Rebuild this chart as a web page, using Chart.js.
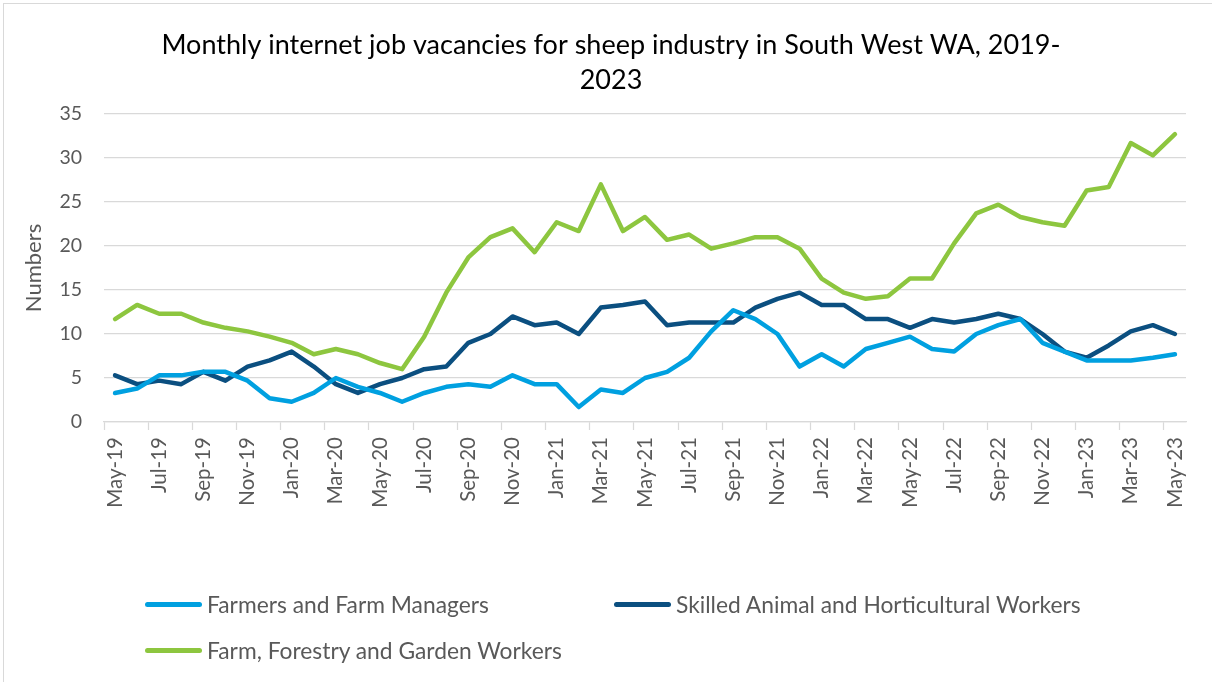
<!DOCTYPE html>
<html>
<head>
<meta charset="utf-8">
<script src="https://cdn.jsdelivr.net/npm/chart.js@4.4.0/dist/chart.umd.min.js"></script>
<style>
  html, body { margin: 0; padding: 0; background: #fff; overflow: hidden; }
  #wrap { position: relative; width: 1212px; height: 682px; }
  #frame { position: absolute; left: 3px; top: 3px; width: 1230px; height: 700px; border: 1px solid #d9d9d9; box-sizing: border-box; }
  #chart { position: absolute; left: 0; top: 0; }
  .legend { position: absolute; font-family: Lato, sans-serif; font-size: 22.8px; color: #595959;
            display: flex; align-items: center; white-space: nowrap; height: 30px; }
  .legend i { display: inline-block; width: 57px; height: 5px; border-radius: 2.5px; margin-right: 5px; }
</style>
</head>
<body>
<div id="wrap">
  <div id="frame"></div>
  <canvas id="chart" width="1212" height="682"></canvas>
  <div class="legend" style="left:145px; top:589px;"><i style="background:#00a0e0"></i>Farmers and Farm Managers</div>
  <div class="legend" style="left:614px; top:589px;"><i style="background:#0b4f80"></i>Skilled Animal and Horticultural Workers</div>
  <div class="legend" style="left:145px; top:635px;"><i style="background:#8dc63f"></i>Farm, Forestry and Garden Workers</div>
</div>
<script>
// Monthly series, May-19 .. May-23
const months = [
  'May-19', 'Jun-19', 'Jul-19', 'Aug-19', 'Sep-19', 'Oct-19', 'Nov-19', 'Dec-19',
  'Jan-20', 'Feb-20', 'Mar-20', 'Apr-20', 'May-20', 'Jun-20', 'Jul-20', 'Aug-20',
  'Sep-20', 'Oct-20', 'Nov-20', 'Dec-20', 'Jan-21', 'Feb-21', 'Mar-21', 'Apr-21',
  'May-21', 'Jun-21', 'Jul-21', 'Aug-21', 'Sep-21', 'Oct-21', 'Nov-21', 'Dec-21',
  'Jan-22', 'Feb-22', 'Mar-22', 'Apr-22', 'May-22', 'Jun-22', 'Jul-22', 'Aug-22',
  'Sep-22', 'Oct-22', 'Nov-22', 'Dec-22', 'Jan-23', 'Feb-23', 'Mar-23', 'Apr-23',
  'May-23'
];

const farmers = [
  3.3, 3.8, 5.3, 5.3, 5.7, 5.7, 4.7, 2.7, 2.3, 3.3, 5.0, 4.0, 3.3, 2.3, 3.3, 4.0,
  4.3, 4.0, 5.3, 4.3, 4.3, 1.7, 3.7, 3.3, 5.0, 5.7, 7.3, 10.3, 12.7, 11.7, 10.0, 6.3,
  7.7, 6.3, 8.3, 9.0, 9.7, 8.3, 8.0, 10.0, 11.0, 11.7, 9.0, 8.0, 7.0, 7.0, 7.0, 7.3,
  7.7
];

const skilled = [
  5.3, 4.3, 4.7, 4.3, 5.7, 4.7, 6.3, 7.0, 8.0, 6.3, 4.3, 3.3, 4.3, 5.0, 6.0, 6.3,
  9.0, 10.0, 12.0, 11.0, 11.3, 10.0, 13.0, 13.3, 13.7, 11.0, 11.3, 11.3, 11.3, 13.0, 14.0, 14.7,
  13.3, 13.3, 11.7, 11.7, 10.7, 11.7, 11.3, 11.7, 12.3, 11.7, 10.0, 8.0, 7.3, 8.7, 10.3, 11.0,
  10.0
];

const farmWorkers = [
  11.7, 13.3, 12.3, 12.3, 11.3, 10.7, 10.3, 9.7, 9.0, 7.7, 8.3, 7.7, 6.7, 6.0, 9.7, 14.7,
  18.7, 21.0, 22.0, 19.3, 22.7, 21.7, 27.0, 21.7, 23.3, 20.7, 21.3, 19.7, 20.3, 21.0, 21.0, 19.7,
  16.3, 14.7, 14.0, 14.3, 16.3, 16.3, 20.3, 23.7, 24.7, 23.3, 22.7, 22.3, 26.3, 26.7, 31.7, 30.3,
  32.7
];

const seriesNames = ['Farmers and Farm Managers', 'Skilled Animal and Horticultural Workers', 'Farm, Forestry and Garden Workers'];
const seriesColors = ['#00a0e0', '#0b4f80', '#8dc63f'];

const grey = '#595959';
const gridGrey = '#d9d9d9';

const makeSet = (label, data, color) => ({
    label: label,
    data: data,
    borderColor: color,
    backgroundColor: color,
    borderWidth: 4.5,
    borderJoinStyle: 'round',
    borderCapStyle: 'round',
    pointRadius: 0,
    tension: 0,
    fill: false
});

new Chart(document.getElementById('chart').getContext('2d'), {
    type: 'line',
    data: {
        labels: months,
        datasets: [
            makeSet(seriesNames[0], farmers, seriesColors[0]),
            makeSet(seriesNames[1], skilled, seriesColors[1]),
            makeSet(seriesNames[2], farmWorkers, seriesColors[2])
        ]
    },
    options: {
        responsive: false,
        devicePixelRatio: 1,
        animation: false,
        layout: { padding: { left: 10, right: 0, top: 0, bottom: 0 } },
        plugins: {
            legend: { display: false },
            tooltip: { enabled: false },
            title: {
                display: true,
                text: ['Monthly internet job vacancies for sheep industry in South West WA, 2019-', '2023'],
                color: '#000',
                font: { family: 'Lato', size: 27, weight: 'normal', lineHeight: 35 / 27 },
                padding: { top: 27.5, bottom: 16.5 }
            }
        },
        scales: {
            x: {
                offset: true,
                afterFit: (s) => { s.height = 260; s.paddingRight = 26; s.paddingLeft = 0; },
                grid: {
                    offset: true,
                    drawOnChartArea: false,
                    tickLength: 8,
                    tickWidth: 1.25,
                    tickColor: (ctx) => (ctx.index % 2 === 0 ? gridGrey : 'rgba(0,0,0,0)')
                },
                border: { display: true, color: gridGrey, width: 1.25 },
                ticks: {
                    autoSkip: false,
                    minRotation: 90,
                    maxRotation: 90,
                    padding: 7,
                    color: grey,
                    font: { family: 'Lato', size: 20.5 },
                    callback: function(value, index) {
                        return index % 2 === 0 ? this.getLabelForValue(value) : '';
                    }
                }
            },
            y: {
                min: 0,
                max: 35,
                afterFit: (s) => { s.width = 94; },
                grid: { color: gridGrey, lineWidth: 1.25, drawTicks: false },
                border: { display: false },
                ticks: {
                    stepSize: 5,
                    padding: 22,
                    color: grey,
                    font: { family: 'Lato', size: 19.5 }
                },
                title: {
                    display: true,
                    text: 'Numbers',
                    color: grey,
                    font: { family: 'Lato', size: 22 },
                    padding: { top: 11, bottom: 0 }
                }
            }
        }
    }
});
</script>
</body>
</html>
